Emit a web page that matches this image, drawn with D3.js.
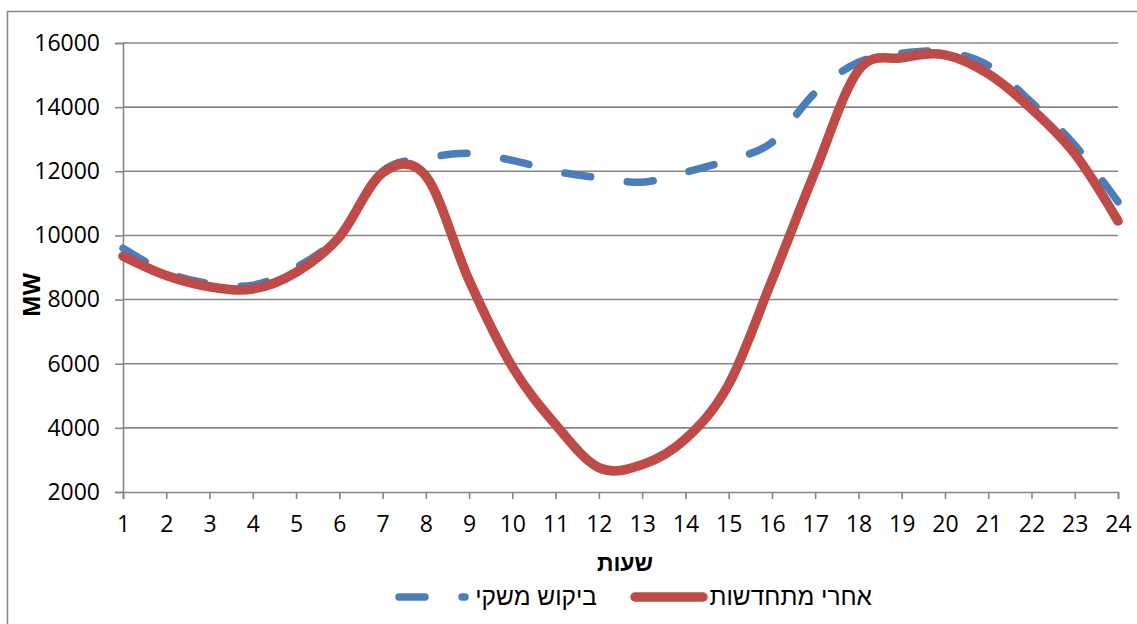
<!DOCTYPE html>
<html>
<head>
<meta charset="utf-8">
<script src="https://cdn.jsdelivr.net/npm/d3@7"></script>
<style>
  html, body { margin: 0; padding: 0; background: #fff; }
  svg { display: block; }
  .num { font-family: "Open Sans", "Liberation Sans", sans-serif; font-size: 23px; fill: #000; }
  .heb { font-family: "Liberation Sans", "DejaVu Sans", sans-serif; fill: #000; }
</style>
</head>
<body>
<svg id="chart" width="1137" height="624"></svg>
<script>
// Hourly load (MW): total demand vs. demand left after renewables
const hours = d3.range(1, 25);
const demand = [9600, 8850, 8500, 8450, 9000, 10000, 12000, 12400, 12560, 12340, 12000, 11800,
                11660, 11970, 12350, 12900, 14450, 15400, 15680, 15720, 15300, 14150, 12820, 11050];
const afterRenewables = [9350, 8750, 8400, 8330, 8850, 9950, 11950, 11850, 8600, 5900, 4100, 2760,
                         2850, 3650, 5350, 8600, 12000, 15150, 15540, 15630, 15040, 13950, 12550, 10450];
const yTicks = [2000, 4000, 6000, 8000, 10000, 12000, 14000, 16000];
const seriesNames = ["ביקוש משקי", "אחרי מתחדשות"];
const xTitle = "שעות";
const yTitle = "MW";

const svg = d3.select("#chart");
const plot = { left: 123, right: 1118, top: 43, bottom: 492 };
const x = d3.scaleLinear().domain([1, 24]).range([plot.left, plot.right]);
const y = d3.scaleLinear().domain([2000, 16000]).range([plot.bottom, plot.top]);
const grid = "#868686";

// chart frame
svg.append("rect")
  .attr("x", 7.5).attr("y", 11.5).attr("width", 1140).attr("height", 630)
  .attr("fill", "none").attr("stroke", grid).attr("stroke-width", 1.5);

// horizontal gridlines
svg.append("g").selectAll("line").data(yTicks.filter(v => v > 2000)).join("line")
  .attr("x1", plot.left).attr("x2", plot.right)
  .attr("y1", d => y(d)).attr("y2", d => y(d))
  .attr("stroke", grid).attr("stroke-width", 1.6);

// y axis
const yAxis = svg.append("g").attr("transform", `translate(${plot.left},0)`)
  .call(d3.axisLeft(y).tickValues(yTicks).tickSize(8).tickPadding(15).tickFormat(d3.format("d")));
yAxis.select(".domain").attr("stroke", grid).attr("stroke-width", 1.6);
yAxis.selectAll(".tick line").attr("stroke", grid).attr("stroke-width", 1.6);
yAxis.selectAll(".tick text").attr("class", "num").attr("font-size", null).attr("font-family", null);

// x axis
const xAxis = svg.append("g").attr("transform", `translate(0,${plot.bottom})`)
  .call(d3.axisBottom(x).tickValues(hours).tickSize(7).tickPadding(17).tickFormat(d3.format("d")));
xAxis.select(".domain").attr("stroke", grid).attr("stroke-width", 1.6);
xAxis.selectAll(".tick line").attr("stroke", grid).attr("stroke-width", 1.6);
xAxis.selectAll(".tick text").attr("class", "num").attr("font-size", null).attr("font-family", null);

// axis titles
svg.append("text").attr("class", "heb")
  .attr("x", 625).attr("y", 571).attr("text-anchor", "middle")
  .attr("font-size", 23).attr("font-weight", "bold").text(xTitle);
svg.append("text").attr("class", "num")
  .attr("transform", "translate(40,295) rotate(-90)").attr("text-anchor", "middle")
  .attr("font-size", 23).attr("font-weight", "bold").text(yTitle);

// series lines
const line = d3.line().x((d, i) => x(hours[i])).y(d => y(d)).curve(d3.curveCardinal.tension(0));
const series = [
  { values: demand, color: "#4a7ebb", width: 7.5, dash: "26 37" },
  { values: afterRenewables, color: "#be4b48", width: 9.5, dash: null }
];
svg.append("g").selectAll("path").data(series).join("path")
  .attr("d", d => line(d.values))
  .attr("fill", "none")
  .attr("stroke", d => d.color)
  .attr("stroke-width", d => d.width)
  .attr("stroke-linecap", "round")
  .attr("stroke-linejoin", "round")
  .attr("stroke-dasharray", d => d.dash);

// legend
const legend = [
  { name: seriesNames[0], s: series[0], x1: 399, x2: 465, textEnd: 597 },
  { name: seriesNames[1], s: series[1], x1: 635, x2: 703, textEnd: 872 }
];
const lg = svg.append("g").selectAll("g").data(legend).join("g");
lg.append("line")
  .attr("x1", d => d.x1).attr("x2", d => d.x2).attr("y1", 597).attr("y2", 597)
  .attr("stroke", d => d.s.color).attr("stroke-width", d => d.s.width)
  .attr("stroke-linecap", "round").attr("stroke-dasharray", d => d.s.dash);
lg.append("text").attr("class", "heb")
  .attr("x", d => d.textEnd).attr("y", 605).attr("text-anchor", "end")
  .attr("font-size", 24.5).text(d => d.name);
</script>
</body>
</html>
